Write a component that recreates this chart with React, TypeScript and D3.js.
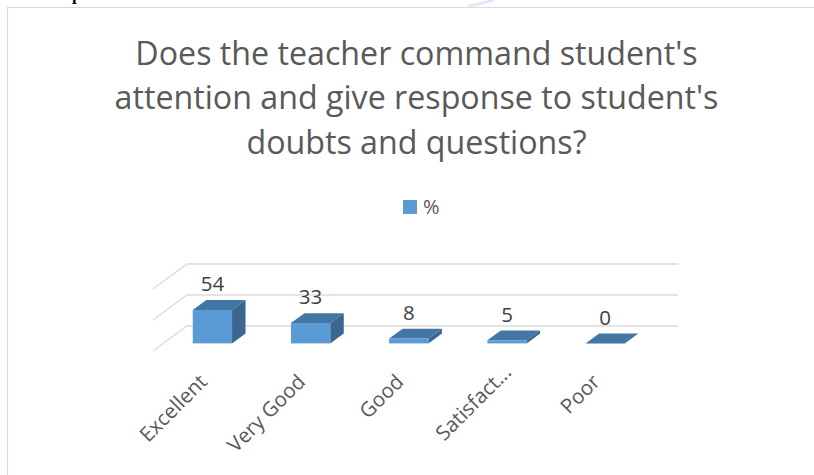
import React from "react";
import * as d3 from "d3";

const titleLines = ["Does the teacher command student's", "attention and give response to student's", "doubts and questions?"];
const categories = ["Excellent", "Very Good", "Good", "Satisfact...", "Poor"];
const values = [54, 33, 8, 5, 0];
const gridTicks = [0, 50, 100];
const seriesName = "%";

const font = "'Open Sans', sans-serif";
const textColor = "#595959";

export default function App() {
  const x = d3.scaleBand<string>().domain(categories).range([153, 644]).paddingInner(0.6).paddingOuter(0.3);
  const floorFrontY = 351;
  const h = d3.scaleLinear().domain([0, 100]).range([0, 62]);
  const depth = { dx: 34, dy: -25 };
  const barOffset = { dx: 10.3, dy: -7.6 };
  const barDepth = { dx: 13.5, dy: -9.8 };
  const poly = d3.line<[number, number]>();

  return (
    <svg width={814} height={475} style={{ position: "absolute", left: 0, top: 0, background: "#fff" }}>
      <path d="M468 6.5L494 0" fill="none" stroke="#e6e6fa" strokeWidth={3} />
      <path d="M7.5 475V7.5H814" fill="none" stroke="#d9d9d9" strokeWidth={1.2} />
      <text x={72} y={0} fontFamily="'Liberation Serif', serif" fontSize={17} fontWeight="bold" fill="#000">p</text>

      {titleLines.map((t, i) => (
        <text key={t} x={416.5} y={64.5 + i * 44.5} textAnchor="middle" fontFamily={font} fontSize={32.2} fill={textColor}>{t}</text>
      ))}

      <rect x={403} y={200} width={14} height={14} fill="#5b9bd5" />
      <text x={423} y={214} fontFamily={font} fontSize={20} fill={textColor}>{seriesName}</text>

      {gridTicks.map((t) => {
        const y0 = floorFrontY - h(t);
        return (
          <path
            key={t}
            d={poly([[153, y0], [153 + depth.dx, y0 + depth.dy], [644 + depth.dx, y0 + depth.dy]]) ?? ""}
            fill="none"
            stroke="#dcdcdc"
            strokeWidth={1.3}
          />
        );
      })}

      {categories.map((c, i) => {
        const v = values[i];
        const l = (x(c) ?? 0) + barOffset.dx;
        const r = l + x.bandwidth();
        const b = floorFrontY + barOffset.dy;
        const t = b - h(v);
        const { dx, dy } = barDepth;
        const truncatedShift = c.endsWith("...") ? 9.5 : 0;
        return (
          <g key={c}>
            <path d={poly([[l, t], [r, t], [r + dx, t + dy], [l + dx, t + dy]]) + "Z"} fill="#4375a5" />
            <path d={poly([[r, t], [r + dx, t + dy], [r + dx, b + dy], [r, b]]) + "Z"} fill="#3b6690" />
            <rect x={l} y={t} width={x.bandwidth()} height={b - t} fill="#5b9bd5" />
            <text x={(l + r) / 2} y={t - 18.5} textAnchor="middle" fontFamily={font} fontSize={20.5} fill="#404040">{v}</text>
            <text
              transform={`translate(${(l + r) / 2 - 4 + truncatedShift},${383 - truncatedShift}) rotate(-45)`}
              textAnchor="end"
              fontFamily={font}
              fontSize={20.5}
              fill={textColor}
            >{c}</text>
          </g>
        );
      })}
    </svg>
  );
}
